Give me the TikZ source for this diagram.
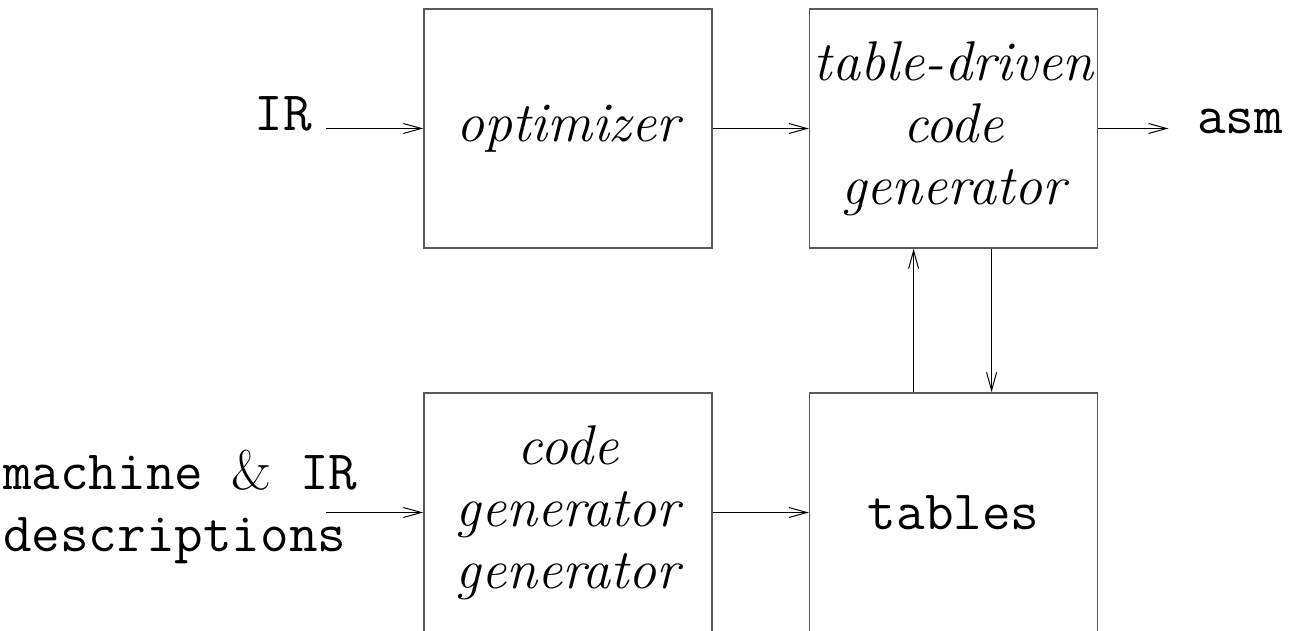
\documentclass[tikz,border=0pt]{standalone}
\usepackage{fontspec}
\usetikzlibrary{arrows.meta, positioning}

\begin{document}
\begin{tikzpicture}[
    x=1pt, y=-1pt,
    box/.style={rectangle, draw=black!65, line width=1.6pt, minimum width=288pt,
      minimum height=239pt, align=center, inner sep=0pt,
      font=\fontsize{56}{62}\selectfont\itshape},
    lbl/.style={inner sep=0pt, align=left, font=\fontsize{55.5}{62}\selectfont\ttfamily},
    line/.style={-{Straight Barb[length=18pt, width=10pt]}, line width=1pt}
  ]
  \useasboundingbox (0,0) rectangle (1294,631);

  \node[box] (opt) at (568,128.5) {optimizer};
  \node[box, right=96pt of opt] (tdcg) {table-driven\\code\\generator};
  \node[box] (cgg) at (568,512.5) {code\\generator\\generator};
  \node[box, right=96pt of cgg] (tab) {\upshape\ttfamily\fontsize{55.5}{62}\selectfont tables};

  \node[lbl, anchor=base] (ir) at (283,131) {IR};
  \node[lbl, anchor=base] (asm) at (1240,134) {asm};
  \node[lbl, anchor=west] (mach) at (3,507) {machine {\rmfamily\&} IR\\descriptions};

  % free ends of the input and output arrows
  \coordinate (irend) at ([xshift=-97pt]opt.west);
  \coordinate (asmend) at ([xshift=70pt]tdcg.east);
  \coordinate (machend) at ([xshift=-97pt]cgg.west);

  \draw[line] (irend) -- (opt.west);
  \draw[line] (opt) -- (tdcg);
  \draw[line] (tdcg.east) -- (asmend);
  \draw[line] ([xshift=-40pt]tab.north) -- ([xshift=-40pt]tdcg.south);
  \draw[line] ([xshift=38pt]tdcg.south) -- ([xshift=38pt]tab.north);
  \draw[line] (machend) -- (cgg.west);
  \draw[line] (cgg) -- (tab);
\end{tikzpicture}
\end{document}
